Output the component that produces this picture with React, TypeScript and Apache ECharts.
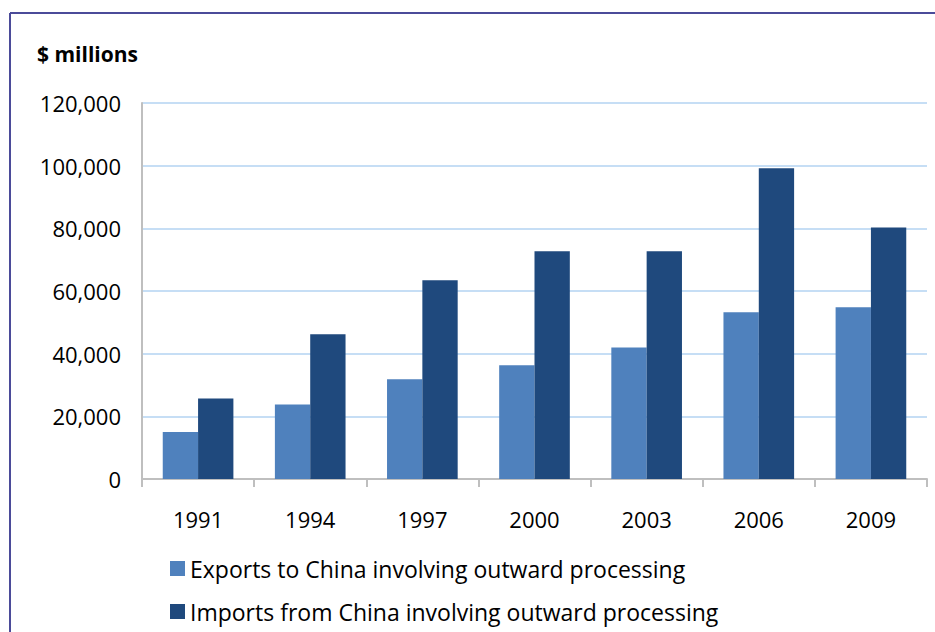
import React, { useEffect, useRef } from "react";
import * as echarts from "echarts";

const years = ["1991", "1994", "1997", "2000", "2003", "2006", "2009"];
const exportsToChina = [15000, 23800, 31800, 36300, 42000, 53200, 54800];
const importsFromChina = [25700, 46200, 63400, 72700, 72700, 99200, 80300];
const seriesNames = [
  "Exports to China involving outward processing",
  "Imports from China involving outward processing",
];
const yAxisTitle = "$ millions";

const FONT = "'Open Sans', Lato, sans-serif";

export default function App() {
  const ref = useRef<HTMLDivElement>(null);

  useEffect(() => {
    document.body.style.margin = "0";
    if (!ref.current) return;
    const chart = echarts.init(ref.current, undefined, { renderer: "svg" });
    chart.setOption({
      animation: false,
      backgroundColor: "#ffffff",
      textStyle: { fontFamily: FONT },
      graphic: [
        {
          type: "line",
          shape: { x1: 10, y1: 13, x2: 935, y2: 13 },
          style: { stroke: "#4B4B99", lineWidth: 2 },
        },
        {
          type: "line",
          shape: { x1: 10, y1: 13, x2: 10, y2: 632 },
          style: { stroke: "#4B4B99", lineWidth: 2 },
        },
        {
          type: "text",
          left: 37,
          top: 43,
          style: {
            text: yAxisTitle,
            font: `bold 21px ${FONT}`,
            fill: "#000000",
          },
        },
      ],
      grid: { left: 142, right: 8, top: 103, bottom: 153, containLabel: false },
      legend: {
        orient: "vertical",
        left: 165,
        top: 552,
        itemWidth: 15,
        itemHeight: 15,
        itemGap: 20,
        icon: "rect",
        textStyle: { fontSize: 23, color: "#000000", fontFamily: FONT },
        data: seriesNames,
      },
      xAxis: {
        type: "category",
        data: years,
        axisLine: { lineStyle: { color: "#BFBFBF", width: 2 } },
        axisTick: { show: true, length: 8, lineStyle: { color: "#BFBFBF", width: 2 } },
        axisLabel: { fontSize: 22, color: "#000000", margin: 29, fontFamily: FONT },
      },
      yAxis: {
        type: "value",
        min: 0,
        max: 120000,
        interval: 20000,
        axisLine: { show: true, lineStyle: { color: "#BFBFBF", width: 2 } },
        axisTick: { show: false },
        splitLine: { lineStyle: { color: "#C6DEF5", width: 2 } },
        axisLabel: {
          fontSize: 22,
          color: "#000000",
          margin: 21,
          fontFamily: FONT,
          formatter: (v: number) => v.toLocaleString("en-US"),
        },
      },
      series: [
        {
          name: seriesNames[0],
          type: "bar",
          data: exportsToChina,
          itemStyle: { color: "#4F81BD" },
          barGap: "0%",
          barCategoryGap: "37%",
        },
        {
          name: seriesNames[1],
          type: "bar",
          data: importsFromChina,
          itemStyle: { color: "#1F497D" },
          barGap: "0%",
          barCategoryGap: "37%",
        },
      ],
    });
    return () => chart.dispose();
  }, []);

  return <div ref={ref} style={{ width: 935, height: 632 }} />;
}
